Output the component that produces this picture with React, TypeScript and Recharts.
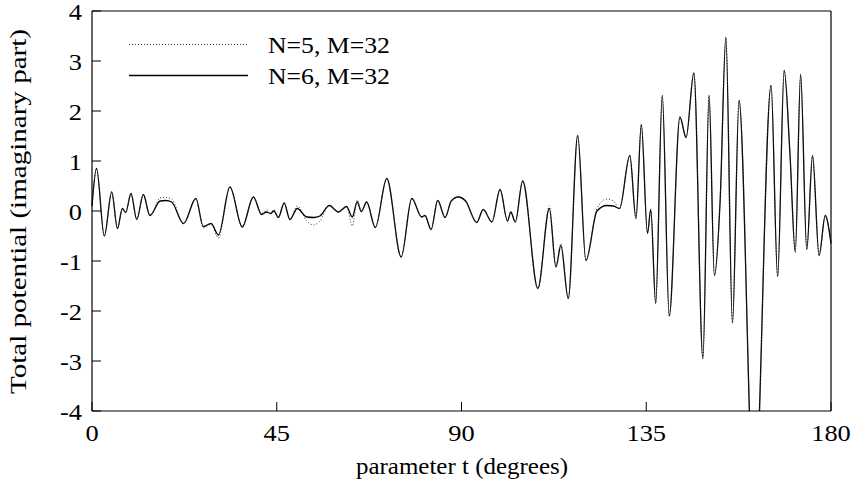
import React from 'react';
import { LineChart, Line, XAxis, YAxis, ReferenceLine } from 'recharts';

// parameter t (degrees)
const tDeg = [
  0, 1.1, 3.0, 4.8, 6.2, 7.4, 8.2, 9.5, 10.9, 12.5, 14.1, 16.6, 18.0, 19.4, 22.3, 25.3, 27.1, 29.0, 30.8,
  33.6, 36.6, 39.3, 41.3, 42.5, 43.5, 44.3, 45.4, 46.8, 48.2, 50.0, 52.3, 54.0, 55.5, 57.8, 60.0, 62.0,
  63.4, 64.6, 65.6, 66.9, 69.0, 71.8, 75.3, 77.9, 80.3, 81.1, 82.6, 84.2, 86.0, 87.5, 89.2, 91.0, 93.7,
  95.3, 97.4, 99.4, 101.2, 102.0, 103.1, 104.9, 108.6, 111.4, 113.0, 114.2, 116.0, 118.3, 120.3, 123.0,
  125.4, 127.0, 128.5, 131.0, 132.5, 133.8, 135.3, 136.1, 137.3, 138.9, 140.6, 143.2, 144.7, 146.6,
  148.8, 150.3, 151.6, 153.0, 154.4, 156.0, 157.6, 161.3, 165.4, 167.0, 168.6, 170.0, 171.3, 172.6,
  174.1, 175.5, 177.1, 178.6, 180.0,
];

// N=6, M=32 (solid)
const n6 = [
  0.1, 0.85, -0.5, 0.38, -0.35, 0.05, -0.03, 0.35, -0.17, 0.33, -0.09, 0.2, 0.21, 0.18, -0.25, 0.25, -0.31, -0.25, -0.48,
  0.48, -0.32, 0.28, -0.07, -0.02, -0.05, 0.0, -0.13, 0.16, -0.17, 0.05, -0.12, -0.13, -0.1, 0.11, -0.02, 0.09,
  -0.12, 0.18, -0.01, 0.18, -0.33, 0.65, -0.92, 0.25, -0.12, -0.09, -0.37, 0.21, -0.13, 0.2, 0.28, 0.2, -0.23,
  0.03, -0.22, 0.43, -0.2, -0.02, -0.22, 0.6, -1.55, 0.05, -1.12, -0.69, -1.75, 1.51, -0.99, 0.0,
  0.11, 0.1, 0.05, 1.11, -0.15, 1.73, -0.45, 0.03, -1.85, 2.31, -2.1, 1.88, 1.47, 2.76,
  -2.95, 2.31, -1.29, 0.21, 3.47, -2.24, 2.21, -6.0, 2.51, -1.31, 2.81, 1.15, -0.82, 2.73,
  -0.77, 1.11, -0.89, -0.09, -0.65,
];

// N=5, M=32 (dotted)
const n5 = [
  0.1, 0.85, -0.5, 0.38, -0.35, 0.05, -0.03, 0.35, -0.17, 0.33, -0.09, 0.26, 0.27, 0.24, -0.25, 0.25, -0.34, -0.27, -0.54,
  0.48, -0.32, 0.28, -0.05, 0.02, -0.06, 0.03, -0.13, 0.16, -0.17, 0.1, -0.2, -0.28, -0.2, 0.11, -0.02, 0.09,
  -0.3, 0.22, -0.01, 0.18, -0.33, 0.65, -0.92, 0.25, -0.12, -0.09, -0.37, 0.21, -0.13, 0.2, 0.28, 0.2, -0.23,
  0.03, -0.22, 0.43, -0.2, -0.02, -0.22, 0.6, -1.55, 0.1, -1.12, -0.65, -1.75, 1.51, -0.99, 0.05,
  0.24, 0.2, 0.05, 1.11, -0.15, 1.73, -0.45, 0.03, -1.85, 2.31, -2.1, 1.88, 1.47, 2.76,
  -2.95, 2.31, -1.29, 0.21, 3.47, -2.24, 2.21, -6.0, 2.51, -1.31, 2.81, 1.15, -0.82, 2.73,
  -0.77, 1.11, -0.89, -0.09, -0.65,
];

const xTicks = [0, 45, 90, 135, 180];
const yTicks = [-4, -3, -2, -1, 0, 1, 2, 3, 4];
const seriesNames = ['N=5, M=32', 'N=6, M=32'];
const xTitle = 'parameter t (degrees)';
const yTitle = 'Total potential (imaginary part)';

const data = tDeg.map((t, i) => ({ t, n5: n5[i], n6: n6[i] }));

const FONT = '"Liberation Serif", "Times New Roman", serif';
const FS = 24;
const SX = 1.1;

const XTick = (props: any) => {
  const { x, y, payload } = props;
  return (
    <g>
      <line x1={x} y1={y} x2={x} y2={y - 9} stroke="#000" strokeWidth={1} />
      <g transform={`translate(${x},${y + 30}) scale(${SX},1)`}>
        <text x={0} y={0} textAnchor="middle" fontFamily={FONT} fontSize={FS} fill="#000">
          {payload.value}
        </text>
      </g>
    </g>
  );
};

const YTick = (props: any) => {
  const { x, y, payload } = props;
  return (
    <g>
      <line x1={x} y1={y} x2={x + 9} y2={y} stroke="#000" strokeWidth={1} />
      <g transform={`translate(${x - 10},${y + 9}) scale(${SX},1)`}>
        <text x={0} y={0} textAnchor="end" fontFamily={FONT} fontSize={FS} fill="#000">
          {payload.value}
        </text>
      </g>
    </g>
  );
};

export default function App() {
  return (
    <div style={{ position: 'absolute', left: 0, top: 0, width: 853, height: 491, background: '#fff' }}>
      <LineChart
        width={853}
        height={491}
        data={data}
        margin={{ top: 11, right: 22, bottom: 0, left: 0 }}
      >
        <XAxis
          dataKey="t"
          type="number"
          domain={[0, 180]}
          ticks={xTicks}
          interval={0}
          height={80}
          tickSize={0}
          tickMargin={0}
          tickLine={false}
          axisLine={{ stroke: '#000', strokeWidth: 1.2 }}
          tick={<XTick />}
        />
        <YAxis
          type="number"
          domain={[-4, 4]}
          allowDataOverflow
          ticks={yTicks}
          interval={0}
          width={92}
          tickSize={0}
          tickMargin={0}
          tickLine={false}
          axisLine={{ stroke: '#000', strokeWidth: 1.2 }}
          tick={<YTick />}
        />
        <ReferenceLine y={4} stroke="#000" strokeWidth={1.2} />
        <ReferenceLine x={180} stroke="#000" strokeWidth={1.2} />
        <Line
          dataKey="n6"
          type="monotone"
          stroke="#000"
          strokeWidth={1.3}
          dot={false}
          isAnimationActive={false}
        />
        <Line
          dataKey="n5"
          type="monotone"
          stroke="#333"
          strokeWidth={1}
          strokeDasharray="1 2"
          dot={false}
          isAnimationActive={false}
        />
      </LineChart>
      <svg
        width={853}
        height={491}
        style={{ position: 'absolute', left: 0, top: 0, pointerEvents: 'none' }}
      >
        <line x1={129} y1={44.5} x2={248} y2={44.5} stroke="#333" strokeWidth={1} strokeDasharray="1 2" />
        <text x={268} y={53} fontFamily={FONT} fontSize={FS} fill="#000" textLength={122} lengthAdjust="spacingAndGlyphs">
          {seriesNames[0]}
        </text>
        <line x1={129} y1={75.5} x2={248} y2={75.5} stroke="#000" strokeWidth={1.3} />
        <text x={268} y={84} fontFamily={FONT} fontSize={FS} fill="#000" textLength={122} lengthAdjust="spacingAndGlyphs">
          {seriesNames[1]}
        </text>
        <text x={356} y={474} fontFamily={FONT} fontSize={FS} fill="#000" textLength={212} lengthAdjust="spacingAndGlyphs">
          {xTitle}
        </text>
        <text
          transform="translate(26,394) rotate(-90)"
          x={0}
          y={0}
          fontFamily={FONT}
          fontSize={FS}
          fill="#000"
          textLength={365}
          lengthAdjust="spacingAndGlyphs"
        >
          {yTitle}
        </text>
      </svg>
    </div>
  );
}
